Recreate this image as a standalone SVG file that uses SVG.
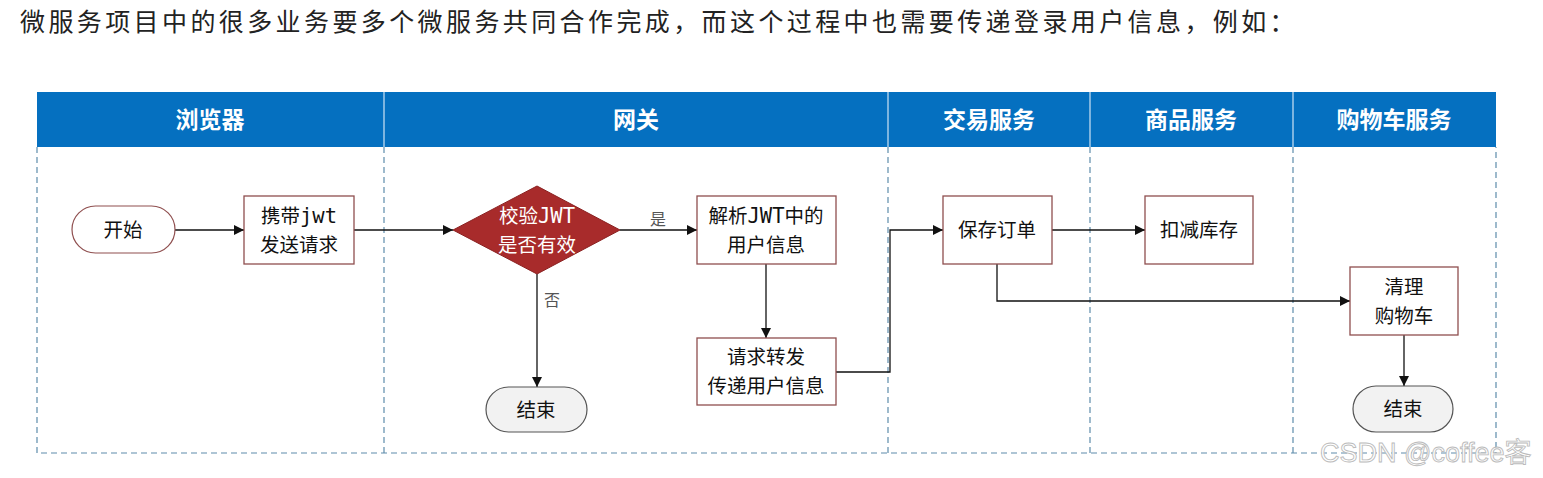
<svg xmlns="http://www.w3.org/2000/svg" width="1543" height="478" viewBox="0 0 1543 478">
<defs>
<style>
text{font-family:"Noto Sans CJK SC","Noto Sans",sans-serif;}
.title{font-size:25px;fill:#222;letter-spacing:3.4px;}
.hdr{font-size:23px;font-weight:bold;fill:#fff;text-anchor:middle;}
.lbl{font-size:19.5px;fill:#111;text-anchor:middle;}
.wl{font-size:19.5px;fill:#fff;text-anchor:middle;}
.mono{font-family:"DejaVu Sans Mono","Liberation Mono",monospace;font-size:20.5px;}
.edge{font-size:16px;fill:#555;text-anchor:middle;}
.box{fill:#fff;stroke:#8f4f4f;stroke-width:1.3;}
.term{fill:#f2f2f2;stroke:#555;stroke-width:1.2;}
.lane{fill:none;stroke:#5e8cab;stroke-width:1.2;stroke-dasharray:6 4;}
.conn{fill:none;stroke:#111;stroke-width:1.3;marker-end:url(#arr);}
.wm{font-family:"Liberation Sans",Arial,sans-serif;font-size:27px;fill:#fff;stroke:#bbb;stroke-width:0.9;}
</style>
<marker id="arr" viewBox="0 0 10 10" refX="10" refY="5" markerWidth="10" markerHeight="10" markerUnits="userSpaceOnUse" orient="auto">
<path d="M0,0 L10,5 L0,10 z" fill="#111"/>
</marker>
</defs>
<rect width="1543" height="478" fill="#fff"/>
<text class="title" x="20" y="31">微服务项目中的很多业务要多个微服务共同合作完成，而这个过程中也需要传递登录用户信息，例如：</text>

<g id="lanes">
<rect x="37" y="92" width="1459" height="55" fill="#0570c0"/>
<g stroke="#cfe3f3" stroke-width="1.2">
<line x1="384" y1="92" x2="384" y2="147"/>
<line x1="888" y1="92" x2="888" y2="147"/>
<line x1="1090" y1="92" x2="1090" y2="147"/>
<line x1="1293" y1="92" x2="1293" y2="147"/>
</g>
<path class="lane" d="M37,147 V453 H1496 V147"/>
<line class="lane" x1="384" y1="147" x2="384" y2="453"/>
<line class="lane" x1="888" y1="147" x2="888" y2="453"/>
<line class="lane" x1="1090" y1="147" x2="1090" y2="453"/>
<line class="lane" x1="1293" y1="147" x2="1293" y2="453"/>
<text class="hdr" x="210" y="128">浏览器</text>
<text class="hdr" x="636" y="128">网关</text>
<text class="hdr" x="989" y="128">交易服务</text>
<text class="hdr" x="1191" y="128">商品服务</text>
<text class="hdr" x="1394" y="128">购物车服务</text>
</g>

<g id="connectors">
<line class="conn" x1="175" y1="230" x2="244" y2="230"/>
<line class="conn" x1="354" y1="230" x2="453" y2="230"/>
<line class="conn" x1="620" y1="230" x2="697" y2="230"/>
<line class="conn" x1="537" y1="274" x2="537" y2="387"/>
<line class="conn" x1="766" y1="264" x2="766" y2="338"/>
<path class="conn" d="M836,372 H890 V230 H943"/>
<line class="conn" x1="1052" y1="230" x2="1145" y2="230"/>
<path class="conn" d="M997,264 V301 H1350"/>
<line class="conn" x1="1404" y1="335" x2="1404" y2="386"/>
<text class="edge" x="658" y="225">是</text>
<text class="edge" x="552" y="306">否</text>
</g>

<g id="start">
<rect x="72" y="206" width="103" height="47" rx="23.5" fill="#fff" stroke="#8f4f4f" stroke-width="1.2"/>
<text class="lbl" x="123" y="237">开始</text>
</g>
<g id="send">
<rect class="box" x="244" y="196" width="110" height="68"/>
<text class="lbl" x="299" y="223">携带<tspan class="mono">jwt</tspan><tspan x="299" dy="28.5">发送请求</tspan></text>
</g>
<g id="check">
<polygon points="537,186 620,230 537,274 453,230" fill="#a82b2b" stroke="#8a2020" stroke-width="1"/>
<text class="wl" x="537" y="223">校验<tspan class="mono">JWT</tspan><tspan x="537" dy="28.5">是否有效</tspan></text>
</g>
<g id="parse">
<rect class="box" x="697" y="196" width="139" height="68"/>
<text class="lbl" x="766" y="223">解析<tspan class="mono">JWT</tspan>中的<tspan x="766" dy="28.5">用户信息</tspan></text>
</g>
<g id="forward">
<rect class="box" x="697" y="338" width="139" height="67"/>
<text class="lbl" x="766" y="364">请求转发<tspan x="766" dy="28.5">传递用户信息</tspan></text>
</g>
<g id="end1">
<rect class="term" x="486" y="387" width="101" height="45" rx="22.5"/>
<text class="lbl" x="536" y="417">结束</text>
</g>
<g id="order">
<rect class="box" x="943" y="196" width="109" height="68"/>
<text class="lbl" x="997" y="237">保存订单</text>
</g>
<g id="stock">
<rect class="box" x="1145" y="196" width="108" height="68"/>
<text class="lbl" x="1199" y="237">扣减库存</text>
</g>
<g id="cart">
<rect class="box" x="1350" y="267" width="108" height="68"/>
<text class="lbl" x="1404" y="294">清理<tspan x="1404" dy="28.5">购物车</tspan></text>
</g>
<g id="end2">
<rect class="term" x="1353" y="386" width="100" height="46" rx="23"/>
<text class="lbl" x="1403" y="416">结束</text>
</g>
<text class="wm" x="1320" y="462">CSDN @coffee<tspan font-family="Noto Sans CJK SC">客</tspan></text>
</svg>
